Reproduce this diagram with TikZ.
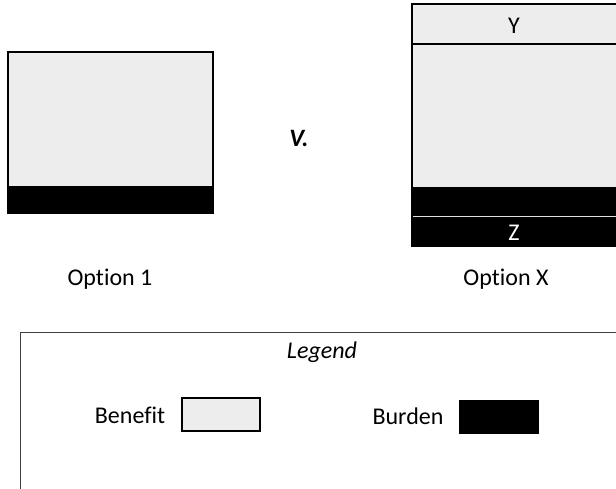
\documentclass[tikz,border=0pt]{standalone}
\usepackage{fontspec}
\setmainfont{Carlito}[Ligatures=NoCommon]
\definecolor{benefitgray}{HTML}{EDEDED}
\begin{document}
\begin{tikzpicture}[x=1pt,y=-1pt,
  txt/.style={font=\fontsize{24}{28}\selectfont, inner sep=0pt},
  swatch/.style={draw=black, line width=1.5pt, minimum width=78pt, minimum height=33pt, inner sep=0pt}]
\useasboundingbox (0,0) rectangle (616,489);
\clip (0,0) rectangle (616,489);
% option 1
\filldraw[fill=benefitgray, line width=2pt] (8,52) rectangle (213,213);
\fill (8,186) rectangle (213,213);
\draw[line width=2pt] (8,52) rectangle (213,213);
% option X
\filldraw[fill=benefitgray, line width=2pt] (412,4) rectangle (619,246);
\fill (412,187) rectangle (619,246);
\draw[line width=2pt] (412,4) rectangle (619,246);
\draw[line width=1.5pt] (412,44) -- (619,44);
\draw[white!75!gray, line width=1pt] (413,217) -- (619,217);
\node[txt] (y) at (514,26) {Y};
\node[txt, white] (z) at (514,233) {Z};
% labels
\node[txt, font=\fontsize{25}{29}\selectfont\bfseries\itshape] (versus) at (299,138) {V.};
\node[txt] (opt1) at (110,279) {Option 1};
\node[txt] (optx) at (506,279) {Option X};
% legend
\draw[black!75, line width=1pt] (20,332) rectangle (640,500);
\node[txt, font=\fontsize{24}{28}\selectfont\itshape] (legend) at (322,352) {Legend};
\node[txt] (benefit) at (130,415) {Benefit};
\node[swatch, fill=benefitgray] (benefitkey) at (221,414.5) {};
\node[txt] (burden) at (408,416) {Burden};
\node[swatch, fill=black] (burdenkey) at (499,417) {};
\end{tikzpicture}
\end{document}
